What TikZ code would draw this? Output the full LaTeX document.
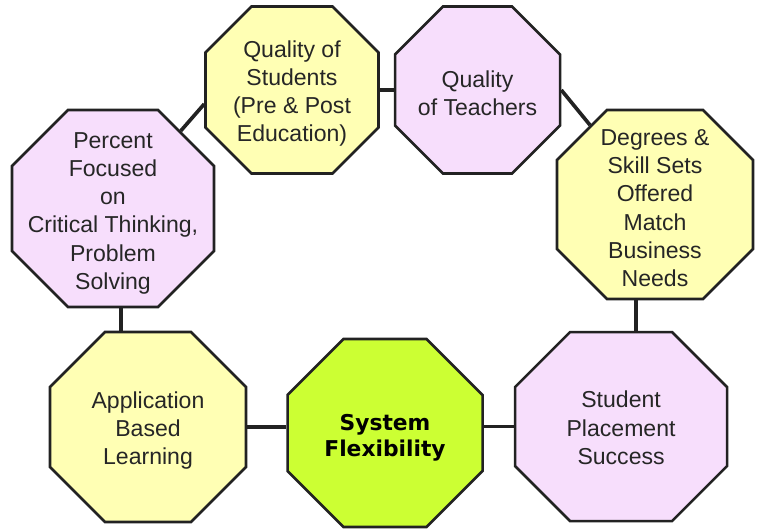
\documentclass[tikz,border=0pt]{standalone}
\usepackage{fontspec}
\setmainfont{Liberation Sans}
\newfontfamily\sysfont{DejaVu Sans}
\usepackage{xcolor}
\usepackage{tikz}
\usetikzlibrary{positioning,shapes.misc}

\definecolor{octyellow}{HTML}{FFFFB4}
\definecolor{octpink}{HTML}{F7DEFC}
\definecolor{octgreen}{HTML}{CCFF33}
\definecolor{octline}{HTML}{222222}

\tikzset{
	octa/.style n args={3}{chamfered rectangle, draw=octline, line width=1.8pt, inner xsep=#1, inner ysep=#2, chamfered rectangle sep=#3},
	octtext/.style={text=black!85, align=center, yshift=-0.09cm, font=\fontsize{16.4pt}{20.1pt}\selectfont},
	link/.style={draw=octline, line width=2.6pt},
}

\begin{document}
\begin{tikzpicture}
	\useasboundingbox (0,0) rectangle (19.075,-13.225);

	\node[octa={1.5875cm}{1.5125cm}{0.575cm}, fill=octyellow, label={[octtext]center:Quality of\\Students\\(Pre \& Post\\Education)}] (qos) at (7.3,-2.25) {};
	\node[octa={1.4625cm}{1.4875cm}{0.6cm}, fill=octpink, right=0.35cm of qos, label={[octtext]center:Quality\\of Teachers}] (qot) {};
	\node[octa={1.825cm}{1.7375cm}{0.625cm}, fill=octyellow, label={[octtext]center:Degrees \&\\Skill Sets\\Offered\\Match\\Business\\Needs}] (deg) at (16.375,-5.1125) {};
	\node[octa={1.825cm}{1.7625cm}{0.7cm}, fill=octpink, label={[octtext, yshift=-0.03cm]center:Percent\\Focused\\on\\Critical Thinking,\\Problem\\Solving}] (pct) at (2.825,-5.2125) {};
	\node[octa={1.7625cm}{1.6875cm}{0.6875cm}, fill=octyellow, label={[octtext]center:Application\\Based\\Learning}] (app) at (3.7,-10.675) {};
	\node[octa={1.7375cm}{1.65cm}{0.7cm}, fill=octgreen, right=0.975cm of app, yshift=-0.15cm, label={[octtext, text=black, yshift=-0.04cm, font=\sysfont\bfseries\fontsize{15.5pt}{18.5pt}\selectfont]center:System\\Flexibility}] (sys) {};
	\node[octa={1.9625cm}{1.675cm}{0.6875cm}, fill=octpink, right=0.75cm of sys, yshift=0.16cm, label={[octtext, yshift=0.06cm]center:Student\\Placement\\Success}] (stu) {};

	\draw[link] (qos.east) -- (qot.west);
	\draw[link] (qot.east) -- (deg);
	\draw[link] ([yshift=-0.35cm]qos.west) -- (pct);
	\draw[link] ([xshift=0.2cm]pct.south) -- ([xshift=0.2cm]pct.south |- app.north);
	\draw[link] (app.east) -- (app.east -| sys.west);
	\draw[link] (stu.west -| sys.east) -- (stu.west);
	\draw[link] ([xshift=-0.475cm]deg.south) -- ([xshift=-0.475cm]deg.south |- stu.north);
\end{tikzpicture}
\end{document}
